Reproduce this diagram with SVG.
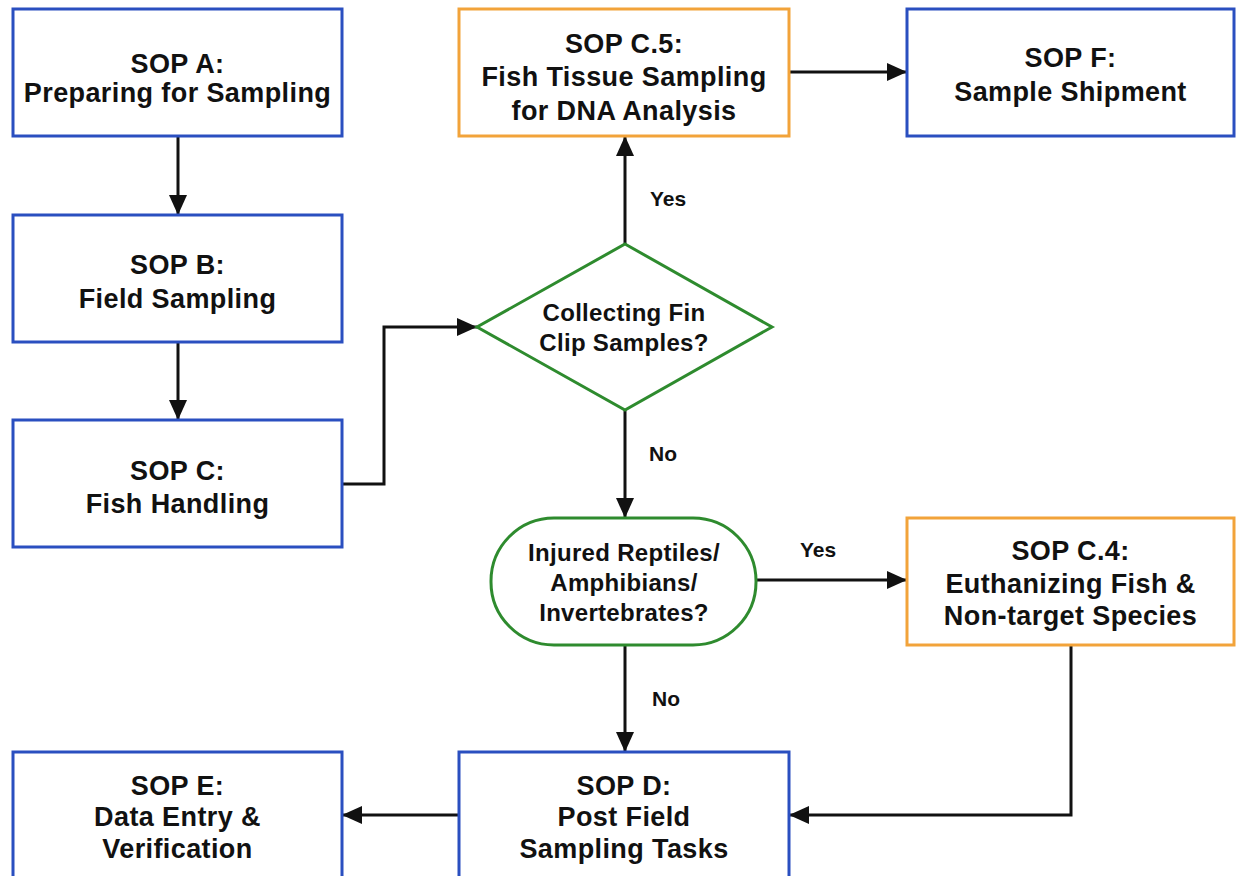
<svg xmlns="http://www.w3.org/2000/svg" width="1236" height="876" viewBox="0 0 1236 876">
<defs>
<style>
.box{fill:#fff;stroke:#2a4fc0;stroke-width:3}
.obox{fill:#fff;stroke:#f2a33a;stroke-width:3}
.gshape{fill:#fff;stroke:#2e8b2e;stroke-width:3}
.t{font-family:"Liberation Sans",Arial,sans-serif;font-weight:bold;font-size:27px;letter-spacing:0.4px;fill:#111;text-anchor:middle}
.d{font-size:24px;letter-spacing:0.3px}
.lbl{font-family:"Liberation Sans",Arial,sans-serif;font-weight:bold;font-size:21px;fill:#111;text-anchor:middle}
.c{fill:none;stroke:#111;stroke-width:3;marker-end:url(#ah)}
</style>
<marker id="ah" markerUnits="userSpaceOnUse" markerWidth="20" markerHeight="18" refX="20" refY="9" orient="auto">
<path d="M0,0 L20,9 L0,18 z" fill="#111"/>
</marker>
</defs>
<rect width="1236" height="876" fill="#fff"/>
<g id="connectors">
<path class="c" d="M178,136 V215"/>
<path class="c" d="M178,342 V420"/>
<path class="c" d="M342,484 H384 V327 H477"/>
<path class="c" d="M625,244 V136"/>
<path class="c" d="M789,72 H907"/>
<path class="c" d="M625,410 V518"/>
<path class="c" d="M755,580 H907"/>
<path class="c" d="M625,645 V752"/>
<path class="c" d="M1071,645 V815 H789"/>
<path class="c" d="M459,815 H342"/>
<text class="lbl" x="668" y="206">Yes</text>
<text class="lbl" x="663" y="461">No</text>
<text class="lbl" x="818" y="557">Yes</text>
<text class="lbl" x="666" y="706">No</text>
</g>
<g id="sopA">
<rect class="box" x="13" y="9" width="329" height="127"/>
<text class="t" x="177.5" y="73">SOP A:</text>
<text class="t" x="177.5" y="102">Preparing for Sampling</text>
</g>
<g id="sopB">
<rect class="box" x="13" y="215" width="329" height="127"/>
<text class="t" x="177.5" y="274">SOP B:</text>
<text class="t" x="177.5" y="308">Field Sampling</text>
</g>
<g id="sopC">
<rect class="box" x="13" y="420" width="329" height="127"/>
<text class="t" x="177.5" y="480">SOP C:</text>
<text class="t" x="177.5" y="513">Fish Handling</text>
</g>
<g id="sopC5">
<rect class="obox" x="459" y="9" width="330" height="127"/>
<text class="t" x="624" y="53">SOP C.5:</text>
<text class="t" x="624" y="86">Fish Tissue Sampling</text>
<text class="t" x="624" y="120">for DNA Analysis</text>
</g>
<g id="sopF">
<rect class="box" x="907" y="9" width="327" height="127"/>
<text class="t" x="1070.5" y="67">SOP F:</text>
<text class="t" x="1070.5" y="101">Sample Shipment</text>
</g>
<g id="decisionFin">
<polygon class="gshape" points="625,244 772,327 625,410 477,327"/>
<text class="t d" x="624" y="321">Collecting Fin</text>
<text class="t d" x="624" y="351">Clip Samples?</text>
</g>
<g id="decisionInjured">
<rect class="gshape" x="491" y="518" width="265" height="127" rx="63" ry="63"/>
<text class="t d" x="624" y="561">Injured Reptiles/</text>
<text class="t d" x="624" y="591">Amphibians/</text>
<text class="t d" x="624" y="621">Invertebrates?</text>
</g>
<g id="sopC4">
<rect class="obox" x="907" y="518" width="327" height="127"/>
<text class="t" x="1070.5" y="560">SOP C.4:</text>
<text class="t" x="1070.5" y="593">Euthanizing Fish &amp;</text>
<text class="t" x="1070.5" y="625">Non-target Species</text>
</g>
<g id="sopD">
<rect class="box" x="459" y="752" width="330" height="127"/>
<text class="t" x="624" y="795">SOP D:</text>
<text class="t" x="624" y="826">Post Field</text>
<text class="t" x="624" y="858">Sampling Tasks</text>
</g>
<g id="sopE">
<rect class="box" x="13" y="752" width="329" height="127"/>
<text class="t" x="177.5" y="795">SOP E:</text>
<text class="t" x="177.5" y="826">Data Entry &amp;</text>
<text class="t" x="177.5" y="858">Verification</text>
</g>
</svg>
